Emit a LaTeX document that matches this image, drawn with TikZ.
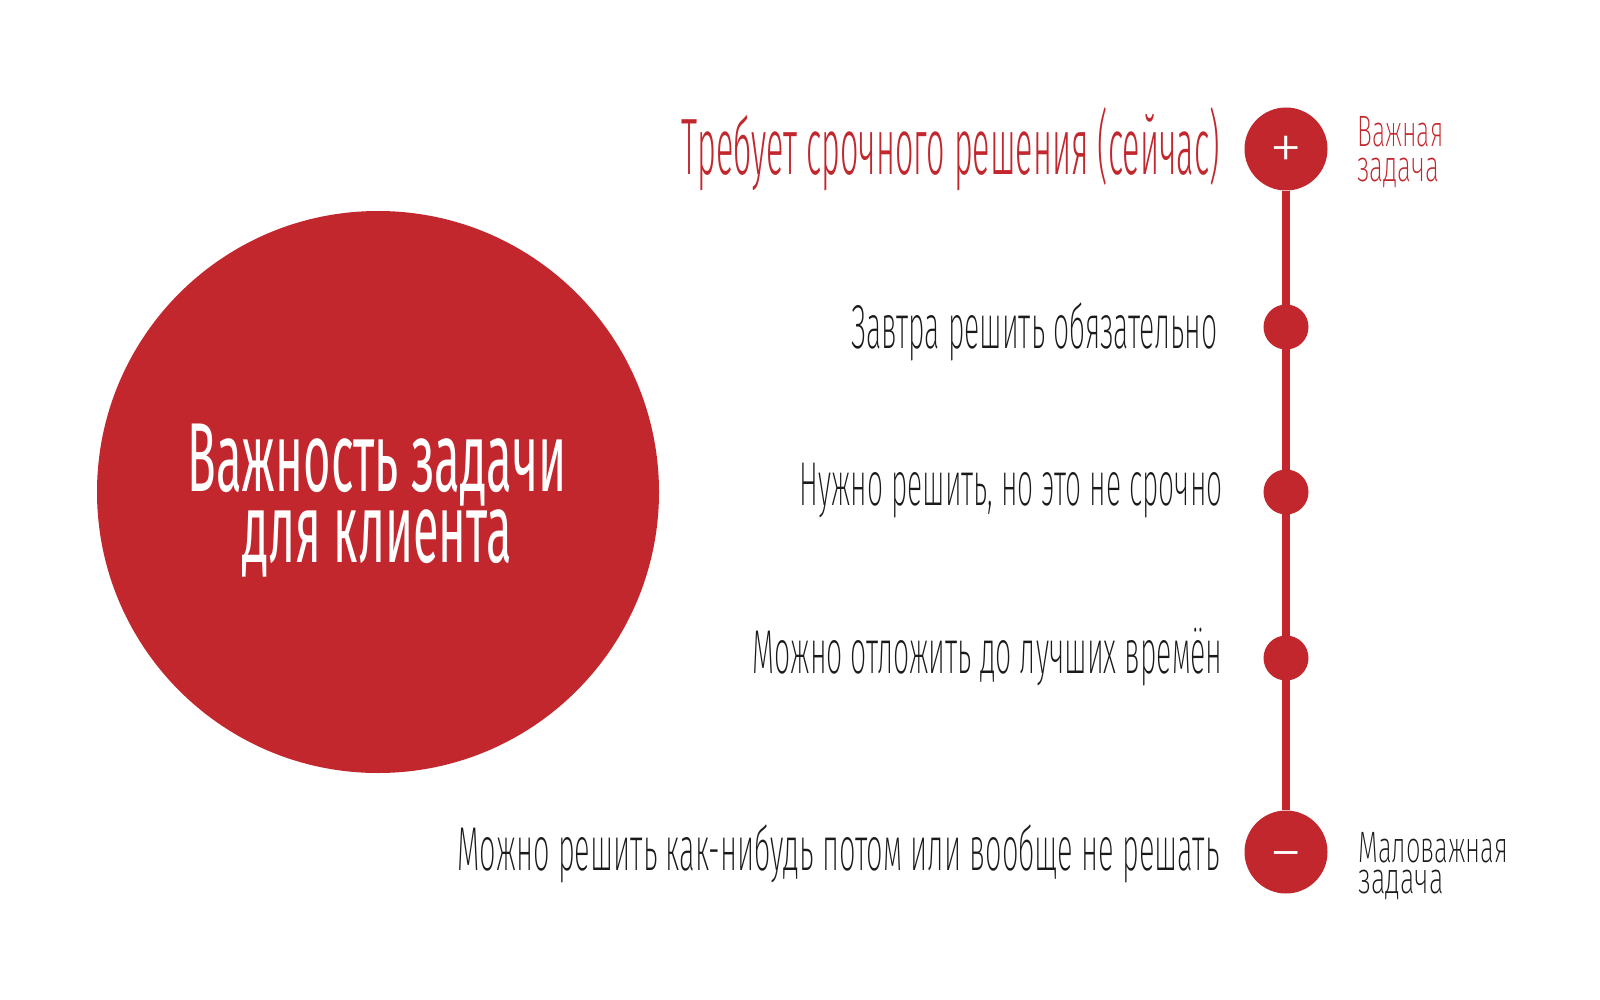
\documentclass[tikz,border=0pt]{standalone}
\usepackage{fontspec}
\usepackage{graphicx}
\IfFontExistsTF{FiraSans-Light.otf}{\newfontfamily\thinf{FiraSans-Light.otf}}{%
 \IfFontExistsTF{Fira Sans Light}{\newfontfamily\thinf{Fira Sans Light}}{%
  \IfFontExistsTF{Open Sans Light}{\newfontfamily\thinf{Open Sans Light}}{%
   \newfontfamily\thinf{Fira Sans}}}}
\IfFontExistsTF{FiraSans-ExtraLight.otf}{\newfontfamily\xthinf{FiraSans-ExtraLight.otf}}{%
 \IfFontExistsTF{Fira Sans ExtraLight}{\newfontfamily\xthinf{Fira Sans ExtraLight}}{%
  \IfFontExistsTF{Lato Light}{\newfontfamily\xthinf{Lato Light}}{%
   \newfontfamily\xthinf{\thinf}}}}
\newfontfamily\regf{Fira Sans}
\newcommand{\fitw}[2]{\resizebox{#1pt}{\height}{#2}}
% two lines, first baseline is the box baseline; #1 = baseline distance
\newcommand{\twoleft}[3]{\vtop{\baselineskip=#1\lineskiplimit=-1000pt\hbox{#2}\hbox{#3}}}
\newcommand{\twocenter}[4]{\vtop{\baselineskip=#1\lineskiplimit=-1000pt\hbox to #2{\hss#3\hss}\hbox to #2{\hss#4\hss}}}
\definecolor{cred}{HTML}{C1272D}
\definecolor{ctext}{HTML}{1A1A1A}
\tikzset{
  bigc/.style={circle, fill=cred, minimum size=281pt, inner sep=0pt},
  endc/.style={circle, fill=cred, minimum size=41.5pt, inner sep=0pt},
  dotc/.style={circle, fill=cred, minimum size=22.5pt, inner sep=0pt},
  lvl/.style={anchor=base east, inner sep=0pt, text=ctext, font=\xthinf\fontsize{31}{36}\selectfont},
  lvlred/.style={anchor=base east, inner sep=0pt, text=cred, font=\thinf\fontsize{40}{48}\selectfont},
  sidelbl/.style={anchor=base west, inner sep=0pt, font=\xthinf\fontsize{22}{26}\selectfont},
  bigtxt/.style={anchor=base, inner sep=0pt, text=white, font=\regf\fontsize{49}{56}\selectfont},
  sign/.style={inner sep=0pt, text=white, font=\xthinf\fontsize{34}{36}\selectfont},
  axis/.style={draw=cred, line width=4pt}
}
\begin{document}
\begin{tikzpicture}[x=0.5pt, y=-0.5pt]
\useasboundingbox[fill=white] (0,0) rectangle (1600,1000);

% big circle
\node[bigc] (main) at (378,492) {};
\node[bigtxt] (maintxt) at (377,491) {\twocenter{35.5pt}{189.5pt}{\fitw{189.5}{Важность задачи}}{\fitw{134.5}{для клиента}}};

% scale circles
\node[endc] (top) at (1286,149) {};
\node[dotc] (d1) at (1286,327) {};
\node[dotc] (d2) at (1286,492) {};
\node[dotc] (d3) at (1286,658) {};
\node[endc] (bot) at (1286,852) {};
\draw[axis] (top.south) -- (bot.north);

\node[sign] (plus) at (1286,153) {+};
\node[sign] (minus) at (1286,864) {−};

% level texts
\node[lvlred] (l0) at (1220,175) {\fitw{269}{Требует срочного решения (сейчас)}};
\node[lvl] (l1) at (1218,348) {\fitw{183}{Завтра решить обязательно}};
\node[lvl] (l2) at (1223,505) {\fitw{211.5}{Нужно решить, но это не срочно}};
\node[lvl] (l3) at (1223,673) {\fitw{235}{Можно отложить до лучших времён}};
\node[lvl] (l4) at (1220,870) {\fitw{381}{Можно решить как-нибудь потом или вообще не решать}};

% side labels
\node[sidelbl, text=cred] (tlbl) at (1357,147) {\twoleft{17.5pt}{\fitw{43}{Важная}}{\fitw{41}{задача}}};
\node[sidelbl, text=ctext] (blbl) at (1358,862) {\twoleft{15.5pt}{\fitw{75}{Маловажная}}{\fitw{42.5}{задача}}};
\end{tikzpicture}
\end{document}
